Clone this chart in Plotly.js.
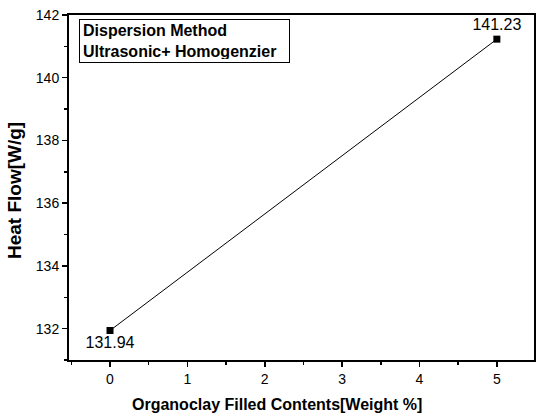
<!DOCTYPE html>
<html><head><meta charset="utf-8">
<script src="https://cdn.plot.ly/plotly-3.0.1.min.js"></script>
<style>html,body{margin:0;padding:0;background:#fff}#c{width:536px;height:419px}</style>
</head><body><div id="c"></div>
<script>
const xVals = [0, 5];
const yVals = [131.94, 141.23];
const pointLabels = ['131.94', '141.23'];
const xTicks = [0, 1, 2, 3, 4, 5];
const yTicks = [132, 134, 136, 138, 140, 142];
const legendLines = ['Dispersion Method', 'Ultrasonic+ Homogenzier'];
const xTitle = 'Organoclay Filled Contents[Weight %]';
const yTitle = 'Heat Flow[W/g]';

const FONT = 'Arial, Liberation Sans, sans-serif';
const trace = {
  x: xVals, y: yVals, mode: 'lines+markers+text',
  line: {color: '#000', width: 1},
  marker: {symbol: 'square', size: 7, color: '#000'},
  text: pointLabels,
  textposition: ['bottom center', 'top center'],
  textfont: {family: FONT, size: 16, color: '#000'},
  cliponaxis: false, hoverinfo: 'none'
};
const ax = {
  showline: true, linecolor: '#000', linewidth: 2, mirror: true,
  ticks: 'outside', ticklen: 5, tickwidth: 1.5, tickcolor: '#000',
  showgrid: false, zeroline: false,
  tickfont: {family: FONT, size: 14, color: '#000'},
  minor: {ticks: 'outside', ticklen: 3, tickwidth: 1.5, tickcolor: '#000', showgrid: false}
};
const layout = {
  width: 536, height: 419,
  margin: {l: 69, r: 2, t: 15, b: 59},
  paper_bgcolor: '#fff', plot_bgcolor: '#fff',
  showlegend: false,
  xaxis: Object.assign({}, ax, {
    range: [-0.53, 5.48], tickvals: xTicks, ticktext: xTicks.map(String),
    minor: Object.assign({}, ax.minor, {dtick: 0.5, tick0: 0})
  }),
  yaxis: Object.assign({}, ax, {
    range: [131.0, 142.0], tickvals: yTicks, ticktext: yTicks.map(String),
    minor: Object.assign({}, ax.minor, {dtick: 1, tick0: 0})
  }),
  annotations: [{
    xref: 'paper', yref: 'paper', x: 0.0215, y: 0.988, xanchor: 'left', yanchor: 'top',
    text: '<b>' + legendLines.join('<br>') + '</b>', align: 'left', valign: 'middle',
    width: 203, height: 36, showarrow: false,
    font: {family: FONT, size: 16, color: '#000'},
    bordercolor: '#000', borderwidth: 1, borderpad: 3, bgcolor: '#fff'
  }, {
    xref: 'paper', yref: 'paper', x: 0.447, y: -0.13, xanchor: 'center', yanchor: 'middle',
    text: '<b>' + xTitle + '</b>', showarrow: false,
    font: {family: FONT, size: 16, color: '#000'}
  }, {
    xref: 'paper', yref: 'paper', x: -0.116, y: 0.49, xanchor: 'center', yanchor: 'middle',
    text: '<b>' + yTitle + '</b>', textangle: -90, showarrow: false,
    font: {family: FONT, size: 19, color: '#000'}
  }]
};
Plotly.newPlot('c', [trace], layout, {displayModeBar: false, staticPlot: true});
</script></body></html>
